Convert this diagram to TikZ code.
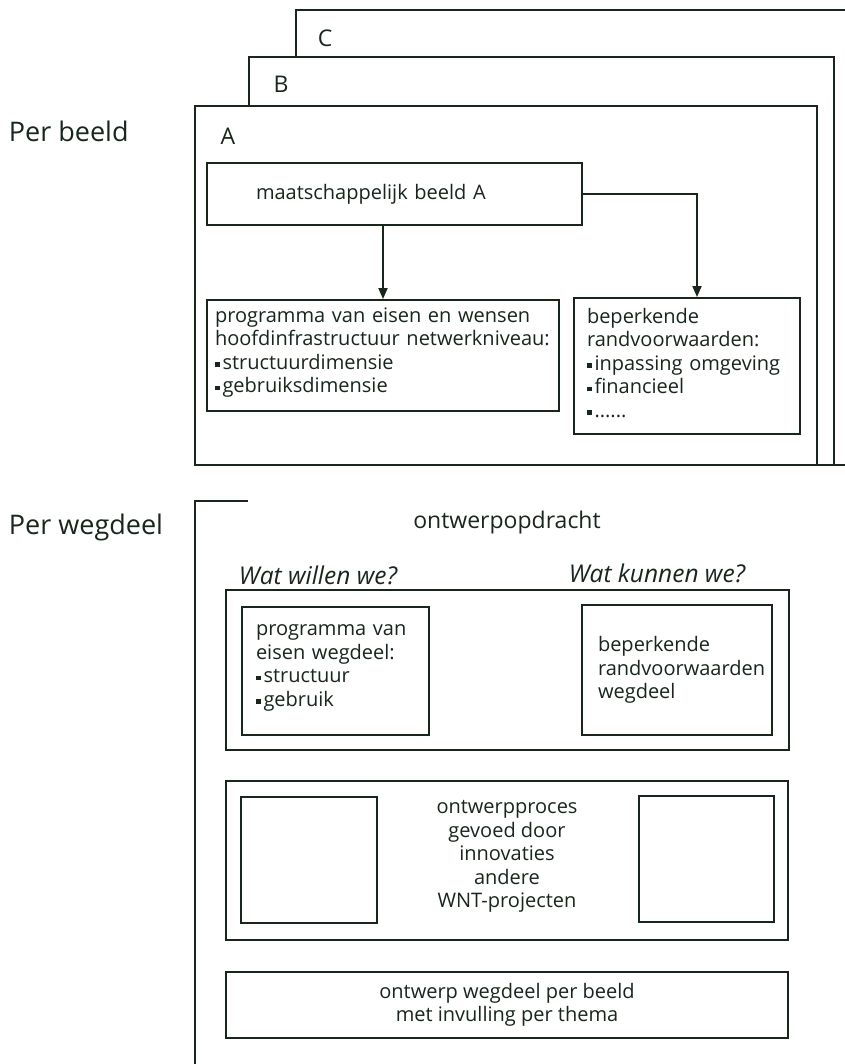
\documentclass[tikz,border=0pt]{standalone}
\usepackage{fontspec}
\setmainfont{Open Sans}
\usetikzlibrary{arrows.meta}
\definecolor{ink}{RGB}{24,38,28}
\newcommand{\blt}{\raisebox{2.5pt}{\rule{4.5pt}{4.5pt}}\hspace{3pt}}
\begin{document}
\begin{tikzpicture}[x=1pt,y=-1pt,line width=1.9pt,color=ink,
    every node/.style={inner sep=0pt},
    sheet/.style={draw,fill=white},
    box/.style={draw,fill=white,font=\fontsize{20}{23.5}\selectfont},
    head/.style={font=\fontsize{23}{27}\selectfont},
    vraag/.style={font=\fontsize{24.5}{28}\selectfont\itshape},
    side/.style={font=\fontsize{27}{31}\selectfont,anchor=west},
    arr/.style={-{Triangle[length=11pt,width=9pt]}}]
    \useasboundingbox (0,0) rectangle (844,1064);
    \draw [sheet] (296,10) rectangle (870,465);
    \draw [sheet] (249,57) rectangle (834,465);
    \draw [sheet] (195,106) rectangle (817,465);
    \node [head] (lblC) at (325,38) {C};
    \node [head] (lblB) at (281,84) {B};
    \node [head] (lblA) at (228,136) {A};
    \node [side] (perbeeld) at (8,131) {Per beeld};
    \node [side] (perwegdeel) at (8,527) {Per wegdeel};
    \node [box, minimum width=375pt, minimum height=62pt, text width=277pt, inner xsep=49pt, align=left] (maats) at (394.5,194) {maatschappelijk beeld A};
    \node [box, minimum width=352pt, minimum height=111pt, text width=336pt, inner xsep=8pt, align=left] (prog) at (383,355.5) {programma van eisen en wensen\\hoofdinfrastructuur netwerkniveau:\\\blt structuurdimensie\\\blt gebruiksdimensie\vspace{6pt}};
    \node [box, minimum width=226pt, minimum height=136pt, text width=200pt, inner xsep=13pt, align=left] (bep) at (687,366) {beperkende\\randvoorwaarden:\\\blt inpassing omgeving\\\blt financieel\\\blt ......\vspace{6pt}};
    \draw [arr] (prog.north |- maats.south) -- (prog.north);
    \draw [arr] (maats.east) -| ([xshift=10pt]bep.north);
    \draw (248,501) -- (195,501) -- (195,1070);
    \node [head] (opdracht) at (507,523) {ontwerpopdracht};
    \node [vraag] (willen) at (318,575) {Wat willen we?};
    \node [vraag] (kunnen) at (657,573) {Wat kunnen we?};
    \node [box, minimum width=563pt, minimum height=160pt] (wens) at (507.5,670) {};
    \node [box, minimum width=187pt, minimum height=128pt, text width=159pt, inner xsep=14pt, align=left] (progweg) at (335.5,671) {programma van\\eisen wegdeel:\\\blt structuur\\\blt gebruik\vspace{6pt}};
    \node [box, minimum width=190pt, minimum height=130pt, text width=158pt, inner xsep=16pt, align=left] (bepweg) at (677,670) {beperkende\\randvoorwaarden\\wegdeel};
    \node [box, minimum width=562pt, minimum height=159pt, align=center] (proces) at (507,860.5) {ontwerpproces\\gevoed door\\innovaties\\andere\\WNT-projecten\vspace{8pt}};
    \node [box, minimum width=136pt, minimum height=126pt] (vakL) at (309,860) {};
    \node [box, minimum width=135pt, minimum height=126pt] (vakR) at (706.5,859) {};
    \node [box, minimum width=562pt, minimum height=66pt, align=center] (ontwerp) at (507,1005) {ontwerp wegdeel per beeld\\met invulling per thema};
\end{tikzpicture}
\end{document}
